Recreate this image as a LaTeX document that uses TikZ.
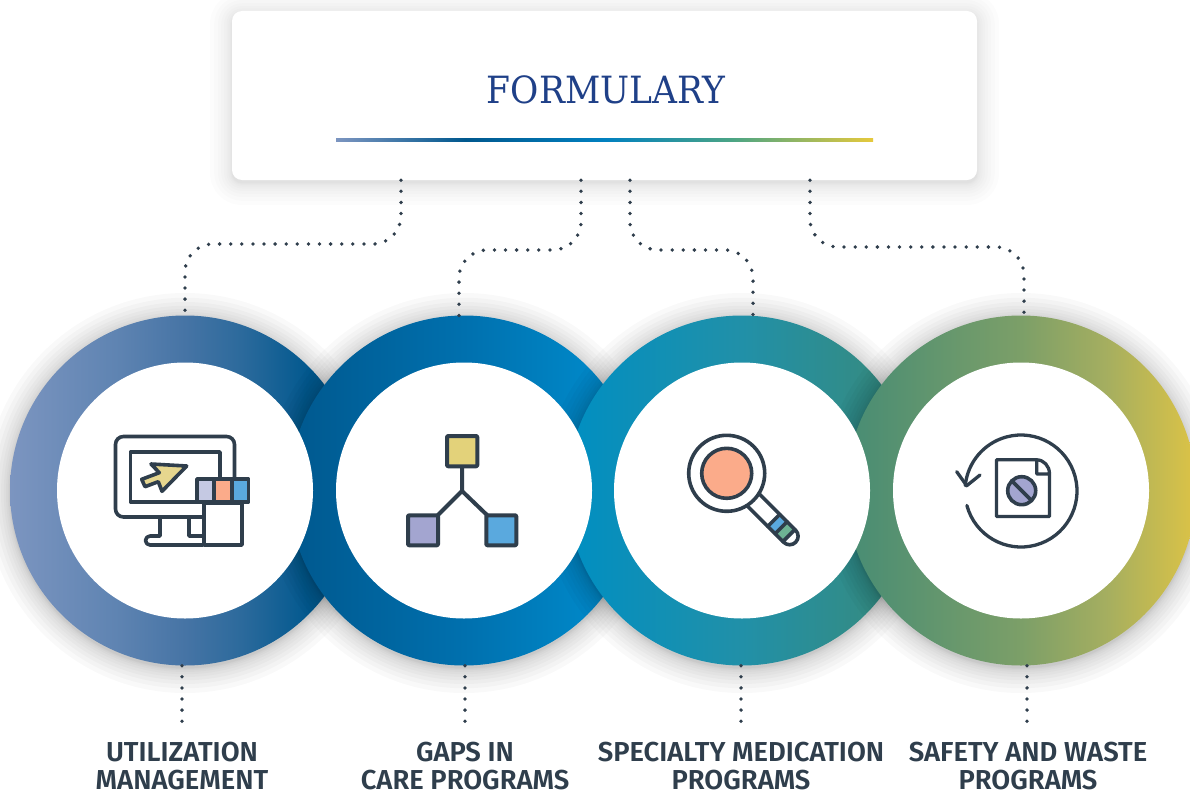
\documentclass[tikz,border=0pt]{standalone}
\usepackage{fontspec}
\usetikzlibrary{calc}
\newfontfamily\capfont{Fira Sans SemiBold}
\newfontfamily\titlefont[FakeStretch=0.92]{DejaVu Serif}

\definecolor{inkgray}{HTML}{2F3E4C}
\definecolor{titleblue}{HTML}{1F4088}
\definecolor{iconyellow}{HTML}{E3D27A}
\definecolor{iconsand}{HTML}{E6D68E}
\definecolor{iconpeach}{HTML}{FBAB8A}
\definecolor{iconblue}{HTML}{5AA9DE}
\definecolor{iconlilac}{HTML}{A3A5D0}
\definecolor{iconpale}{HTML}{C5C9E3}
\definecolor{icongreen}{HTML}{6DB394}

% ring colours, left to right
\definecolor{slateA}{HTML}{7C95C0}
\definecolor{slateB}{HTML}{5F84B2}
\definecolor{slateC}{HTML}{4674A5}
\definecolor{slateD}{HTML}{2C6A9C}
\definecolor{navyA}{HTML}{00588E}
\definecolor{oceanA}{HTML}{0070AE}
\definecolor{oceanB}{HTML}{008ACA}
\definecolor{tealA}{HTML}{008FC2}
\definecolor{tealB}{HTML}{2190A8}
\definecolor{tealC}{HTML}{3A8A78}
\definecolor{moss}{HTML}{478C74}
\definecolor{mossB}{HTML}{7C9F68}
\definecolor{mossC}{HTML}{A4AE60}
\definecolor{goldA}{HTML}{DCC346}
\definecolor{ruleblue}{HTML}{0080C0}
\definecolor{rulegreen}{HTML}{4CA584}
\definecolor{rulegold}{HTML}{E6C93C}
\pgfdeclarehorizontalshading{ringone}{100bp}{
  color(0bp)=(slateA); color(25bp)=(slateA); color(40bp)=(slateB);
  color(50bp)=(slateC); color(58bp)=(slateD); color(68bp)=(navyA); color(100bp)=(navyA)}
\pgfdeclarehorizontalshading{ringtwo}{100bp}{
  color(0bp)=(navyA); color(25bp)=(navyA); color(50bp)=(oceanA);
  color(70bp)=(oceanB); color(100bp)=(oceanB)}
\pgfdeclarehorizontalshading{ringthree}{100bp}{
  color(0bp)=(tealA); color(25bp)=(tealA); color(50bp)=(tealB);
  color(75bp)=(tealC); color(100bp)=(tealC)}
\pgfdeclarehorizontalshading{ringfour}{100bp}{
  color(0bp)=(moss); color(25bp)=(moss); color(50bp)=(mossB);
  color(62bp)=(mossC); color(75bp)=(goldA); color(100bp)=(goldA)}
\pgfdeclarehorizontalshading{rulefade}{100bp}{
  color(0bp)=(slateA); color(25bp)=(slateA); color(37bp)=(navyA);
  color(50bp)=(ruleblue); color(62bp)=(rulegreen); color(75bp)=(rulegold); color(100bp)=(rulegold)}

\begin{document}
\begin{tikzpicture}[x=1pt, y=-1pt, line cap=round,
  cardbox/.style={rounded corners=10pt, fill=white, minimum width=745pt, minimum height=169pt, inner sep=0pt},
  ring/.style={circle, minimum size=350pt, inner sep=0pt},
  hole/.style={circle, fill=white, minimum size=256pt, inner sep=0pt},
  dotline/.style={inkgray, line width=3.8pt, dash pattern=on 0pt off 11.1pt},
  iconline/.style={inkgray, line width=3.6pt, line join=round},
  note/.style={font=\capfont\fontsize{27.4}{28}\selectfont, text=inkgray, align=center, inner sep=0pt}
]
\useasboundingbox (0,0) rectangle (1190,792);
\clip (0,0) rectangle (1190,792);

%--- Soft shadow of the card, then the card ---
\foreach \g in {1,2,...,10} {
  \pgfmathsetmacro\spread{0.22*\g*\g}
  \fill[black, opacity=0.01, rounded corners=(10+\spread)*1pt]
    (232-\spread,14-\spread) rectangle (977+\spread,183+\spread);
}
\node[cardbox] (card) at (604.5,95.5) {};
\node[font=\titlefont\fontsize{37.5}{40}\selectfont, text=titleblue, inner sep=0pt] (title) at (606,90) {FORMULARY};
\shade[shading=rulefade] (336,138) rectangle (873,141);

%--- Rings: each one lies on the shadow it throws on the one before ---
\foreach \nm/\cx/\shd in {ringA/185/ringone, ringB/464/ringtwo, ringC/742/ringthree, ringD/1021/ringfour} {
  \foreach \g in {1,2,...,10}
    \fill[black, opacity=0.022] (\cx,493) circle[radius=175pt+0.25pt*\g*\g];
  \node[ring, shading=\shd] (\nm) at (\cx,490.5) {};
}

% White middles go over all the rings
\node[hole] (holeA) at (ringA) {};
\node[hole] (holeB) at (ringB) {};
\node[hole] (holeC) at (ringC) {};
\node[hole] (holeD) at (ringD) {};

%--- Dotted links, card to rings ---
\coordinate (elbowA) at (401,244);
\coordinate (elbowB) at (581,250);
\coordinate (elbowC) at (630,250);
\coordinate (elbowD) at (810,247);
\coordinate (footA) at (185,316);
\coordinate (footB) at (459,316);
\coordinate (footC) at (753,316);
\coordinate (footD) at (1024,316);
\draw[dotline, rounded corners=28pt] (elbowA |- card.south) -- (elbowA) -- (elbowA -| footA) -- (footA);
\draw[dotline, rounded corners=28pt] (elbowB |- card.south) -- (elbowB) -- (elbowB -| footB) -- (footB);
\draw[dotline, rounded corners=28pt] (elbowC |- card.south) -- (elbowC) -- (elbowC -| footC) -- (footC);
\draw[dotline, rounded corners=28pt] (elbowD |- card.south) -- (elbowD) -- (elbowD -| footD) -- (footD);

%--- Dotted links, rings to captions ---
\coordinate (tailA) at (182,725);
\coordinate (tailB) at (465,725);
\coordinate (tailC) at (741,725);
\coordinate (tailD) at (1027,725);
\draw[dotline] (tailA |- ringA.south) -- (tailA);
\draw[dotline] (tailB |- ringB.south) -- (tailB);
\draw[dotline] (tailC |- ringC.south) -- (tailC);
\draw[dotline] (tailD |- ringD.south) -- (tailD);

\node[note] (capA) at (182,766.5) {UTILIZATION\\MANAGEMENT};
\node[note] (capB) at (465,766.5) {GAPS IN\\CARE PROGRAMS};
\node[note] (capC) at (741,766.5) {SPECIALTY MEDICATION\\PROGRAMS};
\node[note] (capD) at (1028,766.5) {SAFETY AND WASTE\\PROGRAMS};

%--- Icon: monitor with cursor and swatches ---
\draw[iconline, rounded corners=8pt] (203,517) -- (115.5,517) -- (115.5,436.5) -- (234.5,436.5) -- (234.5,478);
\draw[iconline] (203,502) -- (130.5,502) -- (130.5,452) -- (220,452) -- (220,478);
\draw[iconline] (160,517) -- (160,536) -- (150,536) arc[start angle=90, end angle=270, radius=4.5pt] -- (203,545);
\draw[iconline] (189,517) -- (189,536) -- (203,536);
\draw[iconline, fill=iconsand] (186.7,466) -- (151,464) -- (159.3,472.7) -- (141.7,479.3) -- (145,486.7) -- (158.3,481.7) -- (162,491.3) -- cycle;
\draw[iconline, fill=white] (204,503) rectangle (242,545);
\draw[iconline, fill=iconpale] (197,479) rectangle (214,502);
\draw[iconline, fill=iconpeach] (214,479) rectangle (232,502);
\draw[iconline, fill=iconblue] (232,479) rectangle (248.5,502);

%--- Icon: three linked squares ---
\draw[iconline, line width=4pt] (462,466) -- (462,491) -- (438,515);
\draw[iconline, line width=4pt] (462,491) -- (487,515);
\draw[iconline, line width=4pt, fill=iconyellow, rounded corners=1pt] (447,436) rectangle (477.3,466.3);
\draw[iconline, line width=4pt, fill=iconlilac, rounded corners=1pt] (408,515.3) rectangle (438,545.3);
\draw[iconline, line width=4pt, fill=iconblue, rounded corners=1pt] (486.3,515.3) rectangle (516.3,545.3);

%--- Icon: magnifier ---
\begin{scope}[shift={(726.7,473.3)}, rotate=-45]
  \fill[white] (36,-8.5) rectangle (70,8.5);
  \fill[iconblue] (66.5,-8.5) rectangle (77,8.5);
  \fill[icongreen] (77,-8.5) rectangle (88,8.5);
  \draw[iconline] (66.5,-8.5) -- (66.5,8.5) (77,-8.5) -- (77,8.5) (88,-8.5) -- (88,8.5);
  \draw[iconline] (37,-8.5) -- (89,-8.5) arc[start angle=90, end angle=-90, radius=8.5pt] -- (37,8.5);
  \draw[iconline] (0,0) circle[radius=38pt];
  \draw[iconline, fill=iconpeach] (0,0) circle[radius=25pt];
\end{scope}

%--- Icon: document in a return arrow ---
\draw[iconline, line width=3.3pt] (966.9,505.5) arc[start angle=195, end angle=534.4, radius=56pt];
\draw[iconline, line width=3.3pt] (956.7,471.7) -- (966.7,485.7) -- (980,475);
\draw[iconline, line width=3.3pt] (1036.7,459.8) -- (996.5,459.8) -- (996.5,516.5) -- (1049.5,516.5) -- (1049.5,474)
  .. controls (1049.5,466) and (1044,460) .. (1036.7,459.8) -- (1036.7,474) -- (1049.5,474);
\draw[iconline, fill=iconlilac] (1021.7,490.7) circle[radius=14pt];
\draw[iconline] (1011.8,480.8) -- (1031.6,500.6);

\end{tikzpicture}
\end{document}
